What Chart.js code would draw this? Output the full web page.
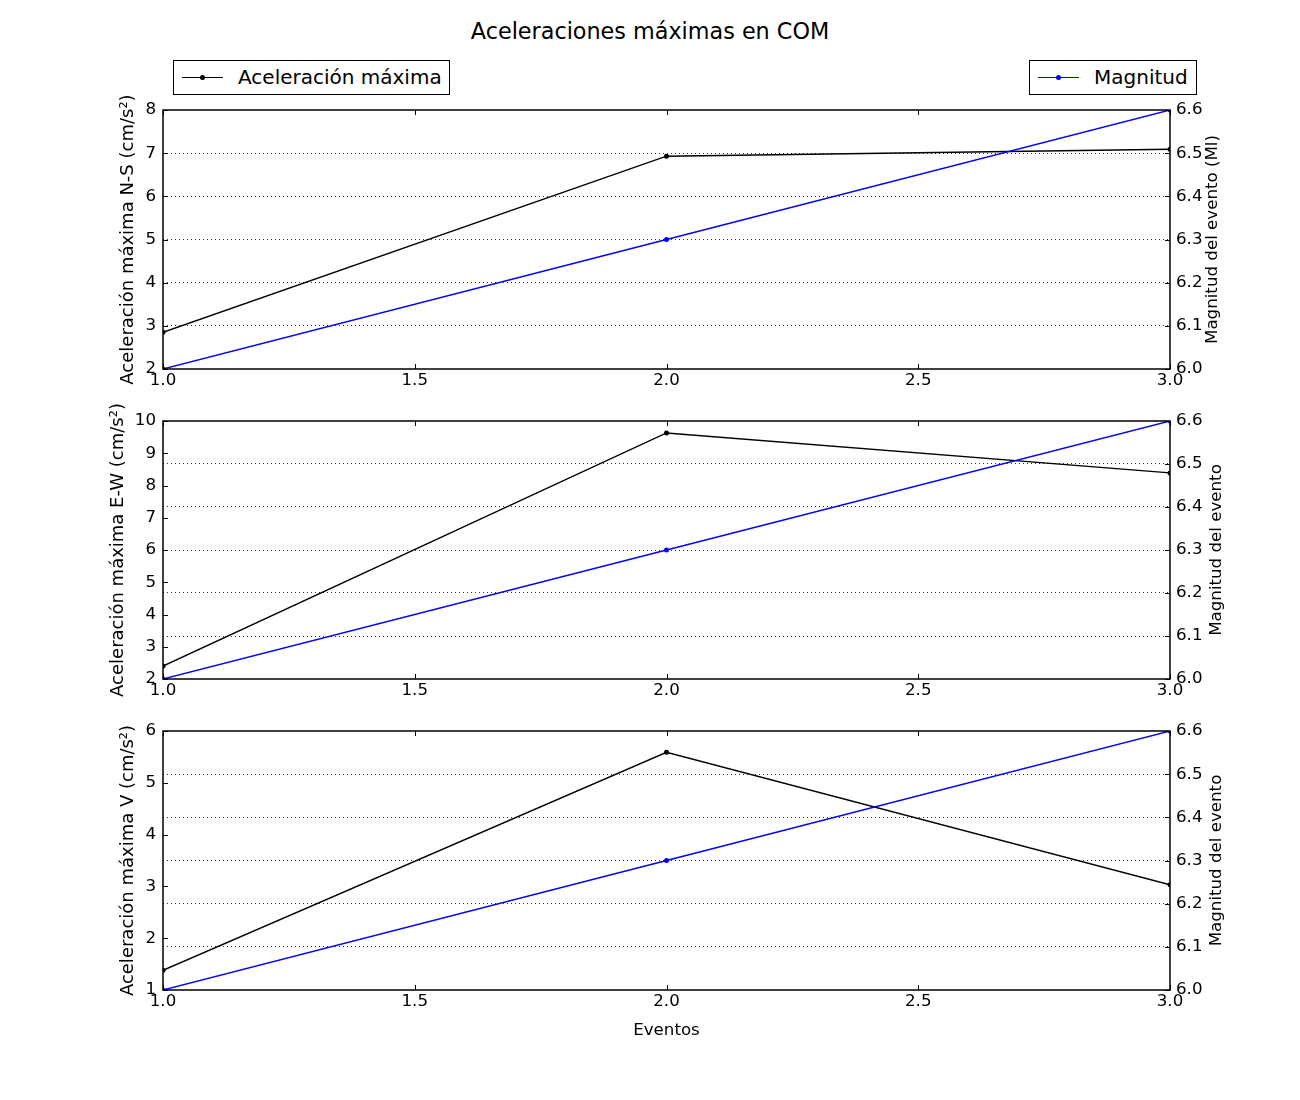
<!DOCTYPE html>
<html>
<head>
<meta charset="utf-8">
<script src="https://cdn.jsdelivr.net/npm/chart.js@4/dist/chart.umd.min.js"></script>
<style>
  body { margin: 0; background: #fff; font-family: 'DejaVu Sans', sans-serif; }
  #page { position: relative; width: 1300px; height: 1100px; background: #fff; }
  .title { position: absolute; left: 0; width: 1300px; top: 17px; text-align: center; font-size: 22.3px; line-height: 28px; color: #000; }
  .legend { position: absolute; top: 60px; height: 33px; border: 1px solid #000; background: #fff; font-size: 20px; line-height: 33px; }
  .legend .line { position: absolute; left: 8px; top: 16px; width: 41px; height: 1.4px; }
  .legend .dot { position: absolute; left: 18px; top: -2px; width: 5px; height: 5px; border-radius: 50%; }
  .legend .text { position: absolute; left: 64px; top: 0; white-space: nowrap; }
  .panel { position: absolute; left: 0; }
</style>
</head>
<body>
<div id="page">
  <div class="title">Aceleraciones máximas en COM</div>
  <div class="legend" style="left:173px; width:275px;">
    <div class="line" style="background:#000"><div class="dot" style="background:#000"></div></div>
    <div class="text">Aceleración máxima</div>
  </div>
  <div class="legend" style="left:1029px; width:166px;">
    <div class="line" style="background:#0000ff"><div class="dot" style="background:#0000ff"></div></div>
    <div class="text">Magnitud</div>
  </div>
  <div class="panel" style="top:80px"><canvas id="ns" width="1300" height="330"></canvas></div>
  <div class="panel" style="top:391px"><canvas id="ew" width="1300" height="329"></canvas></div>
  <div class="panel" style="top:701px"><canvas id="v" width="1300" height="349"></canvas></div>
</div>
<script>
const events = [1, 2, 3]
const magnitude = [6.0, 6.3, 6.6]
const accNS = [2.85, 6.93, 7.09]
const accEW = [2.4, 9.63, 8.39]
const accV = [1.38, 5.59, 3.03]

Chart.defaults.font.family = 'DejaVu Sans'
Chart.defaults.font.size = 16.67
Chart.defaults.color = '#000'

const toPoints = (values) => events.map((x, i) => ({ x, y: values[i] }))

const vText = (ctx, text, x, y) => {
  ctx.save()
  ctx.translate(x, y)
  ctx.rotate(-Math.PI / 2)
  ctx.textAlign = 'center'
  ctx.textBaseline = 'middle'
  ctx.fillText(text, 0, 0)
  ctx.restore()
}

const frame = {
  id: 'frame',
  afterDraw(chart, args, opts) {
    const { ctx, chartArea: a, scales } = chart
    ctx.save()
    ctx.strokeStyle = '#000'
    ctx.lineWidth = 1
    ctx.beginPath()
    scales.x.ticks.forEach((t) => {
      const px = Math.round(scales.x.getPixelForValue(t.value)) + 0.5
      ctx.moveTo(px, a.bottom)
      ctx.lineTo(px, a.bottom - 5)
      ctx.moveTo(px, a.top)
      ctx.lineTo(px, a.top + 5)
    })
    scales.y.ticks.forEach((t) => {
      const py = Math.round(scales.y.getPixelForValue(t.value)) + 0.5
      ctx.moveTo(a.left, py)
      ctx.lineTo(a.left + 5, py)
    })
    scales.y1.ticks.forEach((t) => {
      const py = Math.round(scales.y1.getPixelForValue(t.value)) + 0.5
      ctx.moveTo(a.right, py)
      ctx.lineTo(a.right - 5, py)
    })
    ctx.stroke()
    ctx.lineWidth = 1.5
    ctx.strokeRect(a.left, a.top, a.width, a.height)

    ctx.fillStyle = '#000'
    const midY = (a.top + a.bottom) / 2
    ctx.font = '18px "DejaVu Sans"'
    vText(ctx, opts.left, opts.leftX, midY)
    ctx.font = '16.67px "DejaVu Sans"'
    vText(ctx, opts.right, opts.rightX, midY)
    if (opts.bottom) {
      ctx.textAlign = 'center'
      ctx.textBaseline = 'middle'
      ctx.fillText(opts.bottom, (a.left + a.right) / 2, a.bottom + opts.bottomGap)
    }
    ctx.restore()
  }
}

const makeChart = (id, acc, leftMin, leftMax, labels, xHeight) => {
  new Chart(document.getElementById(id), {
    type: 'line',
    data: {
      datasets: [
        {
          data: toPoints(magnitude),
          yAxisID: 'y1',
          order: 0,
          borderColor: '#0000ff',
          backgroundColor: '#0000ff',
          borderWidth: 1.4,
          pointRadius: 2.5,
          pointBorderWidth: 0,
          tension: 0
        },
        {
          data: toPoints(acc),
          yAxisID: 'y',
          order: 1,
          borderColor: '#000',
          backgroundColor: '#000',
          borderWidth: 1.4,
          pointRadius: 2.5,
          pointBorderWidth: 0,
          tension: 0
        }
      ]
    },
    options: {
      responsive: false,
      animation: false,
      layout: { padding: { top: 30, left: 0, right: 0, bottom: 0 } },
      plugins: {
        legend: { display: false },
        tooltip: { enabled: false },
        frame: labels
      },
      scales: {
        x: {
          type: 'linear',
          min: 1,
          max: 3,
          ticks: { stepSize: 0.5, padding: 2, callback: (v) => v.toFixed(1) },
          grid: { display: false, drawTicks: false },
          border: { display: false },
          afterFit: (scale) => { scale.height = xHeight }
        },
        y: {
          position: 'left',
          min: leftMin,
          max: leftMax,
          ticks: { stepSize: 1, padding: 7 },
          grid: { display: false, drawTicks: false },
          border: { display: false },
          afterFit: (scale) => { scale.width = 163 }
        },
        y1: {
          position: 'right',
          min: 6.0,
          max: 6.6,
          ticks: { stepSize: 0.1, padding: 6, callback: (v) => v.toFixed(1) },
          grid: {
            drawTicks: false,
            color: (c) => (c.index === 0 || c.index === 6 ? 'rgba(0,0,0,0)' : '#000'),
            lineWidth: 0.8
          },
          border: { display: false, dash: [1, 3] },
          afterFit: (scale) => { scale.width = 130 }
        }
      }
    },
    plugins: [frame]
  })
}

makeChart('ns', accNS, 2, 8, {
  left: 'Aceleración máxima N-S (cm/s²)', leftX: 128,
  right: 'Magnitud del evento (Ml)', rightX: 1213
}, 41)
makeChart('ew', accEW, 2, 10, {
  left: 'Aceleración máxima E-W (cm/s²)', leftX: 118,
  right: 'Magnitud del evento', rightX: 1217
}, 41)
makeChart('v', accV, 1, 6, {
  left: 'Aceleración máxima V (cm/s²)', leftX: 128,
  right: 'Magnitud del evento', rightX: 1217,
  bottom: 'Eventos', bottomGap: 41
}, 60)
</script>
</body>
</html>
